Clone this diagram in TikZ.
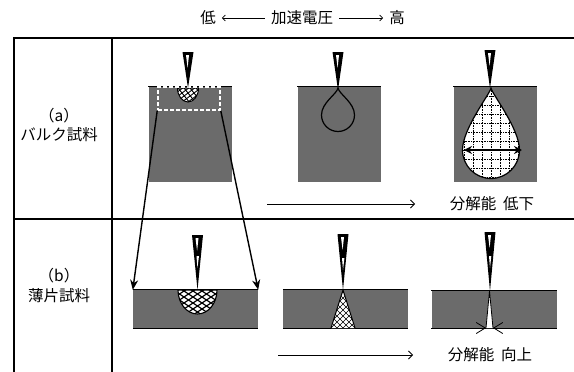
\documentclass[tikz,border=0pt]{standalone}
\usepackage{fontspec}
\setmainfont{Noto Sans CJK JP}
\usetikzlibrary{arrows.meta}
\usetikzlibrary{calc}
\usetikzlibrary{positioning}
\tikzset{
    frame line/.style={
        line width=1.3pt,
    },
    edge line/.style={
        line width=1.1pt,
    },
    bulk/.style={
        fill=black!58,
        minimum width=83pt,
        minimum height=95pt,
        inner sep=0,
    },
    film/.style={
        fill=black!58,
        minimum width=125pt,
        minimum height=38pt,
        inner sep=0,
    },
    zoom box/.style={
        draw=white,
        line width=1.6pt,
        dash pattern=on 4pt off 2pt,
        minimum width=62pt,
        minimum height=23pt,
        inner sep=0,
    },
    beam arrow/.style={
        line width=1.4pt,
        -{Stealth[length=10pt,width=8pt]},
    },
    scan arrow/.style={
        line width=0.8pt,
        -{Straight Barb[length=4pt,width=8pt]},
    },
    title arrow/.style={
        line width=0.7pt,
        -{Straight Barb[length=3pt,width=6pt]},
    },
    label text/.style={
        font=\fontsize{15.5}{19}\selectfont,
        align=center,
        inner sep=3pt,
    },
    title text/.style={
        label text,
        inner sep=6pt,
    },
}
% probe: x, top, tip
\newcommand\eprobe[3]{
    \fill (#1-5.5,#2) -- (#1+5.5,#2) -- (#1,#3) -- cycle;
    \fill[white] (#1-2,#2+3) -- (#1+1,#2+3) -- (#1-0.4,#2+16) -- cycle;
}
% drop shaped volume: style, x, apex y, centre y, radius
\newcommand\dropshape[5]{
    \path[#1] (#2,#3) .. controls (#2+1,#3+6) and (#2+#5,#4-0.75*#5) .. (#2+#5,#4)
        .. controls (#2+#5,#4+0.5523*#5) and (#2+0.5523*#5,#4+#5) .. (#2,#4+#5)
        .. controls (#2-0.5523*#5,#4+#5) and (#2-#5,#4+0.5523*#5) .. (#2-#5,#4)
        .. controls (#2-#5,#4-0.75*#5) and (#2-1,#3+6) .. cycle;
}
% half ellipse below a surface: style, cx, cy, rx, ry
\newcommand\bowl[5]{
    \path[#1] (#2-#4,#3) .. controls (#2-#4,#3+0.5523*#5) and (#2-0.5523*#4,#3+#5) .. (#2,#3+#5)
        .. controls (#2+0.5523*#4,#3+#5) and (#2+#4,#3+0.5523*#5) .. (#2+#4,#3) -- cycle;
}

\begin{document}
\begin{tikzpicture}[x=1pt,y=-1pt]
    \useasboundingbox (0,0) rectangle (574,372);

    % heading
    \node[title text] (volt) at (302,18) {加速電圧};
    \node[title text] (low) at (208,18) {低};
    \node[title text] (high) at (397,18) {高};
    \draw[title arrow] (volt.west) -- (low.east);
    \draw[title arrow] (volt.east) -- (high.west);

    % table
    \draw[frame line] (14,372) -- (14,38) -- (574,38);
    \draw[frame line] (112,38) -- (112,372);
    \draw[frame line] (14,219) -- (574,219);

    \node[label text] (rowA) at (59,125) {（a）\\[1pt]バルク試料};
    \node[label text] (rowB) at (59,285) {（b）\\[1pt]薄片試料};

    % bulk specimens
    \node[bulk] (bulkA) at (190,134.5) {};
    \node[bulk] (bulkB) at (339,134.5) {};
    \node[bulk] (bulkC) at (495,134.5) {};
    \foreach \s in {bulkA,bulkB,bulkC}
    {
        \draw[edge line] (\s.north west) -- (\s.north east);
    }

    % thin films
    \node[film] (filmA) at (195.5,309) {};
    \node[film] (filmB) at (345.5,309) {};
    \node[film] (filmC) at (494,309.5) {};
    \foreach \s in {filmA,filmB,filmC}
    {
        \draw[edge line] (\s.north west) -- (\s.north east);
        \draw[edge line] (\s.south west) -- (\s.south east);
    }

    % (a) low voltage
    \bowl{fill=white}{188}{88}{10.5}{14}
    \begin{scope}
        \bowl{clip}{188}{88}{10.5}{14}
        \foreach \d in {-24,-18,...,24}
        {
            \draw[line width=0.9pt] (188+\d-20,108) -- (188+\d+20,78);
            \draw[line width=0.9pt] (188+\d-12,78) -- (188+\d+12,108);
        }
    \end{scope}
    \bowl{draw,line width=1pt}{188}{88}{10.5}{14}
    \node[zoom box] (zoomA) at (189,98.5) {};
    \eprobe{188}{52}{88}

    % (a) middle voltage
    \dropshape{draw,line width=1.2pt}{338}{88}{115}{16.5}
    \eprobe{338}{52}{90}

    % (a) high voltage
    \dropshape{fill=white}{491}{88}{150}{28.5}
    \begin{scope}
        \dropshape{clip}{491}{88}{150}{28.5}
        \foreach \d in {-36,-27,...,36}
        {
            \draw[densely dotted,line width=0.6pt] (491+\d,88) -- (491+\d,180);
        }
        \foreach \d in {-54,-45,...,27}
        {
            \draw[densely dotted,line width=0.6pt] (455,150+\d) -- (527,150+\d);
        }
    \end{scope}
    \dropshape{draw,line width=1.2pt}{491}{88}{150}{28.5}
    \coordinate (spreadL) at (464,150);
    \coordinate (spreadR) at (522,150);
    \draw[line width=1.4pt,{Stealth[length=8pt,width=8pt]}-{Stealth[length=8pt,width=8pt]}] (spreadL) -- (spreadR);
    \eprobe{490}{50}{88}

    \coordinate (scanA0) at (267,204);
    \coordinate (scanA1) at (415,204);
    \draw[scan arrow] (scanA0) -- (scanA1);
    \node[label text] (resA) at (492,204) {分解能\ \ 低下};

    % beam arrows from the surface region to the film
    \draw[beam arrow] (zoomA.south west) -- (filmA.north west);
    \draw[beam arrow] (zoomA.south east) -- (filmA.north east);

    % (b) thin film, low voltage
    \bowl{fill=white}{197.5}{290}{19.5}{24}
    \begin{scope}
        \bowl{clip}{197.5}{290}{19.5}{24}
        \foreach \d in {-45,-36,...,45}
        {
            \draw[line width=1.2pt] (197.5+\d-30,320) -- (197.5+\d+30,280);
            \draw[line width=1.2pt] (197.5+\d-30,280) -- (197.5+\d+30,320);
        }
    \end{scope}
    \bowl{draw,line width=1.1pt}{197.5}{290}{19.5}{24}
    \eprobe{197.5}{235}{290}
    \fill[white] (196.5,256) -- (199,256) -- (197.4,268) -- cycle;

    % (b) thin film, middle voltage
    \path[fill=white] (343,290) -- (355,328) -- (331,328) -- cycle;
    \begin{scope}
        \clip (343,290) -- (355,328) -- (331,328) -- cycle;
        \foreach \d in {-30,-24,...,30}
        {
            \draw[line width=0.5pt] (343+\d-20,330) -- (343+\d+20,290);
            \draw[line width=0.5pt] (343+\d-20,290) -- (343+\d+20,330);
        }
    \end{scope}
    \draw[line width=1pt] (331,328) -- (343,290) -- (355,328);
    \eprobe{343}{234}{290}
    \fill[white] (342,258) -- (344.4,258) -- (343,270) -- cycle;

    % (b) thin film, high voltage
    \path[fill=white] (489.5,291) -- (493,328) -- (486,328) -- cycle;
    \draw[line width=0.8pt] (486,328) -- (489.5,291) -- (493,328);
    \eprobe{490}{232}{291}
    \fill[white] (489,256) -- (491.3,256) -- (490,268) -- cycle;
    \coordinate (squeezeL) at (472,328);
    \coordinate (squeezeR) at (507,328);
    \draw[line width=0.8pt,-{Straight Barb[length=9pt,width=11pt]}] (squeezeL) -- (486,328);
    \draw[line width=0.8pt,-{Straight Barb[length=9pt,width=11pt]}] (squeezeR) -- (493,328);

    \coordinate (scanB0) at (278,355);
    \coordinate (scanB1) at (413,355);
    \draw[scan arrow] (scanB0) -- (scanB1);
    \node[label text] (resB) at (490,355) {分解能\ \ 向上};

\end{tikzpicture}
\end{document}
